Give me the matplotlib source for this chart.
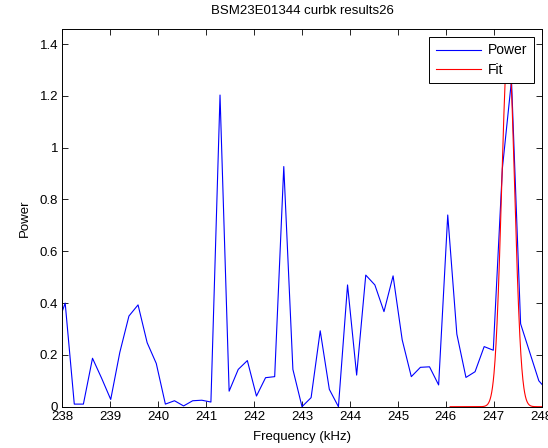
import numpy as np
import matplotlib
matplotlib.use('Agg')
import matplotlib.pyplot as plt
from matplotlib.ticker import FormatStrFormatter

plt.rcParams['font.family'] = ['Liberation Sans', 'DejaVu Sans']

# Spectrum bins (kHz) and measured power
freq = [237.87, 238.06, 238.25, 238.44, 238.63, 238.82, 239.01, 239.20, 239.39,
        239.58, 239.77, 239.96, 240.15, 240.34, 240.53, 240.72, 240.91, 241.10,
        241.29, 241.48, 241.67, 241.86, 242.05, 242.24, 242.43, 242.62, 242.81,
        243.00, 243.19, 243.38, 243.57, 243.76, 243.95, 244.14, 244.33, 244.52,
        244.71, 244.90, 245.09, 245.28, 245.47, 245.66, 245.85, 246.04, 246.23,
        246.42, 246.61, 246.80, 246.99, 247.18, 247.37, 247.56, 247.75, 247.94,
        248.13]
power = [0.30, 0.40, 0.01, 0.01, 0.187, 0.11, 0.028, 0.21, 0.35, 0.393, 0.247,
         0.167, 0.01, 0.023, 0.003, 0.023, 0.025, 0.018, 1.203, 0.06, 0.144,
         0.178, 0.041, 0.112, 0.116, 0.927, 0.144, 0.0, 0.035, 0.293, 0.067,
         0.0, 0.47, 0.122, 0.508, 0.47, 0.367, 0.505, 0.258, 0.116, 0.152,
         0.154, 0.084, 0.74, 0.28, 0.113, 0.135, 0.232, 0.218, 0.92, 1.26,
         0.32, 0.21, 0.10, 0.06]

# Gaussian fit parameters
fit_amp = 1.40
fit_center = 247.30
fit_sigma = 0.135
fit_start, fit_stop = 246.09, 248.2

xticks = [238, 239, 240, 241, 242, 243, 244, 245, 246, 247, 248]
yticks = [0, 0.2, 0.4, 0.6, 0.8, 1.0, 1.2, 1.4]

fit_x = np.linspace(fit_start, fit_stop, 400)
fit_y = fit_amp * np.exp(-(fit_x - fit_center) ** 2 / (2 * fit_sigma ** 2))

fig = plt.figure(figsize=(5.48, 4.48), dpi=100)
ax = fig.add_axes([62.3 / 548, 41.3 / 448, 479.4 / 548, 377.2 / 448])

ax.plot(freq, power, color='blue', lw=0.8, label='Power')
ax.plot(fit_x, fit_y, color='red', lw=0.8, label='Fit')

ax.set_xlim(238, 248)
ax.set_ylim(0, 1.456)
ax.set_xticks(xticks)
ax.set_yticks(yticks)
ax.yaxis.set_major_formatter(FormatStrFormatter('%g'))
ax.tick_params(direction='in', top=True, right=True, length=4, width=0.6,
               labelsize=9.5, pad=3)
for s in ax.spines.values():
    s.set_linewidth(0.7)

ax.set_title('BSM23E01344 curbk results26', fontsize=9.5, pad=11)
ax.set_xlabel('Frequency (kHz)', fontsize=9.5, labelpad=6)
ax.set_ylabel('Power', fontsize=9.5, labelpad=6)

leg = ax.legend(loc='upper right', fontsize=10, fancybox=False,
                edgecolor='black', framealpha=1, borderaxespad=0.55,
                handlelength=3.3, handletextpad=0.5, borderpad=0.45,
                labelspacing=0.4)
leg.get_frame().set_linewidth(0.7)

fig.savefig('out.png', dpi=100)
